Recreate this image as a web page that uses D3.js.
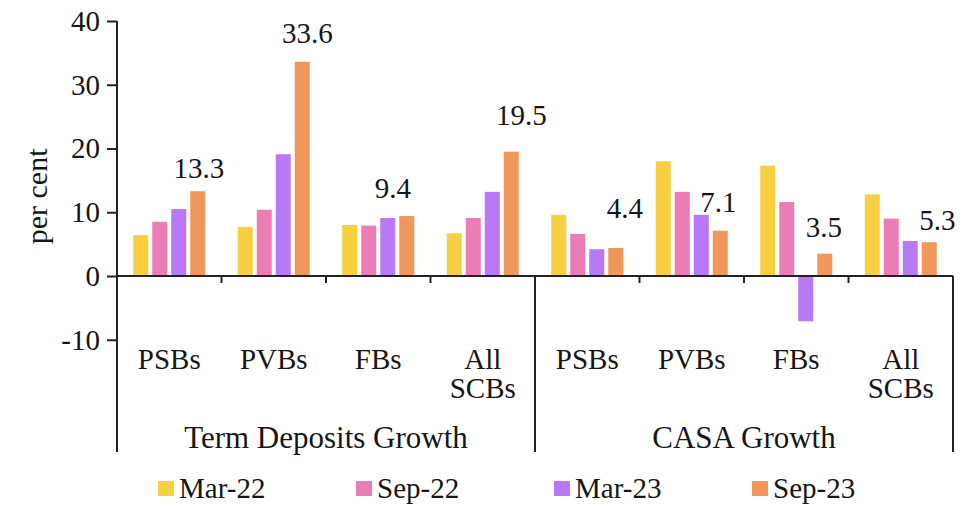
<!DOCTYPE html>
<html>
<head>
<meta charset="utf-8">
<script src="https://cdn.jsdelivr.net/npm/d3@7"></script>
<style>
  html, body { margin: 0; padding: 0; background: #fff; }
  svg text { font-family: "Liberation Serif", "DejaVu Serif", serif; fill: #161616; }
</style>
</head>
<body>
<div id="chart"></div>
<script>
// Term deposits vs CASA growth by bank group (per cent)

const groups = ["Term Deposits Growth", "CASA Growth"];
const banks = ["PSBs", "PVBs", "FBs", "All SCBs"];
const series = ["Mar-22", "Sep-22", "Mar-23", "Sep-23"];

// values per series, in order: term deposits (4 banks) then CASA (4 banks)
const mar22 = [6.4, 7.7, 8.0, 6.7, 9.6, 18.0, 17.3, 12.8];
const sep22 = [8.5, 10.4, 7.9, 9.1, 6.6, 13.2, 11.6, 9.0];
const mar23 = [10.5, 19.1, 9.1, 13.2, 4.2, 9.6, -7.1, 5.5];
const sep23 = [13.3, 33.6, 9.4, 19.5, 4.4, 7.1, 3.5, 5.3];

const yTicks = [-10, 0, 10, 20, 30, 40];

const colors = ["#f7cf40", "#ea7db6", "#b978f5", "#f0975b"];

// hand placed labels in the original sit a little off the bar centre
const labelShift = [[1, -13], [5, -19], [-14, -18], [10, -27], [9, -30], [-2, -19], [-1, -17], [8, -12]];

const width = 966, height = 507;
const margin = { left: 117, right: 13, top: 21 };

const svg = d3.select("#chart").append("svg")
    .attr("width", width)
    .attr("height", height);

const cats = [];
groups.forEach((g, gi) => banks.forEach((b, bi) => cats.push({ key: gi + "-" + b, bank: b, group: gi })));

const allValues = [mar22, sep22, mar23, sep23];

const x0 = d3.scaleBand()
    .domain(cats.map(c => c.key))
    .range([margin.left, width - margin.right])
    .paddingInner(0).paddingOuter(0);

const x1 = d3.scaleBand()
    .domain(series)
    .range([0, x0.bandwidth()])
    .paddingInner(0.21)
    .paddingOuter(0.855);

const y = d3.scaleLinear()
    .domain([-10, 40])
    .range([339.75, margin.top]);

const axisBottom = 452;

// bars
const barG = svg.append("g");
cats.forEach((c, ci) => {
    series.forEach((s, si) => {
        const v = allValues[si][ci];
        barG.append("rect")
            .attr("x", x0(c.key) + x1(s))
            .attr("y", y(Math.max(0, v)))
            .attr("width", x1.bandwidth())
            .attr("height", Math.abs(y(v) - y(0)))
            .attr("fill", colors[si]);
    });
});

// value labels for latest period
const fmt = d3.format(".1f");
cats.forEach((c, ci) => {
    const v = sep23[ci];
    svg.append("text")
        .attr("x", x0(c.key) + x1("Sep-23") + x1.bandwidth() / 2 + labelShift[ci][0])
        .attr("y", y(v) + labelShift[ci][1])
        .attr("text-anchor", "middle")
        .attr("font-size", 29)
        .text(fmt(v));
});

// y axis
const yAxis = d3.axisLeft(y)
    .tickValues(yTicks)
    .tickSize(10)
    .tickPadding(7)
    .tickFormat(d => String(d));

const yg = svg.append("g")
    .attr("transform", `translate(${margin.left},0)`)
    .call(yAxis);
yg.select(".domain").remove();
yg.selectAll(".tick line").attr("stroke", "#222").attr("stroke-width", 2);
yg.selectAll(".tick text")
    .attr("font-size", 29)
    .attr("font-family", "Liberation Serif, serif")
    .attr("fill", "#161616");

svg.append("line")
    .attr("x1", margin.left).attr("x2", margin.left)
    .attr("y1", y(40)).attr("y2", axisBottom)
    .attr("stroke", "#222").attr("stroke-width", 2);

svg.append("text")
    .attr("transform", `translate(47,${(y(40) + y(-10)) / 2 + 16}) rotate(-90)`)
    .attr("text-anchor", "middle")
    .attr("font-size", 30)
    .text("per cent");

// x axis at zero
svg.append("line")
    .attr("x1", margin.left).attr("x2", width - margin.right)
    .attr("y1", y(0)).attr("y2", y(0))
    .attr("stroke", "#222").attr("stroke-width", 2);

// ticks between banks, long lines between groups
cats.forEach((c, ci) => {
    if (ci === 0) return;
    const xx = x0(c.key);
    const isGroupEdge = c.group !== cats[ci - 1].group;
    svg.append("line")
        .attr("x1", xx).attr("x2", xx)
        .attr("y1", y(0)).attr("y2", isGroupEdge ? axisBottom : y(0) + 7)
        .attr("stroke", "#222").attr("stroke-width", 2);
});
svg.append("line")
    .attr("x1", width - margin.right).attr("x2", width - margin.right)
    .attr("y1", y(0)).attr("y2", axisBottom)
    .attr("stroke", "#222").attr("stroke-width", 2);

// bank labels
cats.forEach(c => {
    const t = svg.append("text")
        .attr("x", x0(c.key) + x0.bandwidth() / 2)
        .attr("y", 369)
        .attr("text-anchor", "middle")
        .attr("font-size", 29);
    c.bank.split(" ").forEach((w, i) => {
        t.append("tspan")
            .attr("x", x0(c.key) + x0.bandwidth() / 2)
            .attr("dy", i === 0 ? 0 : 29)
            .text(w);
    });
});

// group labels
groups.forEach((g, gi) => {
    const first = x0(gi + "-" + banks[0]);
    const last = x0(gi + "-" + banks[banks.length - 1]) + x0.bandwidth();
    svg.append("text")
        .attr("x", (first + last) / 2)
        .attr("y", 448)
        .attr("text-anchor", "middle")
        .attr("font-size", 31)
        .text(g);
});

// legend
const legend = d3.scalePoint().domain(series).range([158, 752]);
series.forEach((s, si) => {
    svg.append("rect")
        .attr("x", legend(s))
        .attr("y", 481)
        .attr("width", 16)
        .attr("height", 15)
        .attr("fill", colors[si]);
    svg.append("text")
        .attr("x", legend(s) + 21)
        .attr("y", 498)
        .attr("font-size", 29)
        .text(s);
});
</script>
</body>
</html>
